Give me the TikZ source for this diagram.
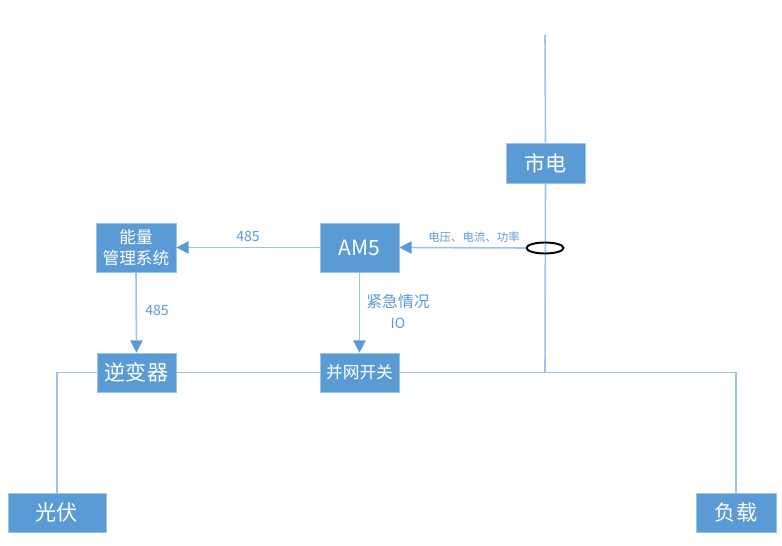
\documentclass[tikz,border=0pt]{standalone}
\usepackage{fontspec}
\setmainfont{Noto Sans CJK SC}
\usetikzlibrary{arrows.meta,shapes.geometric}
\definecolor{boxblue}{HTML}{5B9BD5}
\definecolor{lineblue}{HTML}{9DC3E6}
\tikzset{
  unit/.style={fill=boxblue, draw=lineblue, line width=0.4pt, text=white,
    inner sep=0pt, align=center, font=\fontsize{12}{13}\selectfont},
  wire/.style={draw=lineblue, line width=0.9pt},
  sig/.style={wire, -{Triangle[length=7pt, width=7pt, color=boxblue]}},
  tag/.style={text=boxblue, inner sep=1pt, font=\fontsize{8}{9}\selectfont}
}

\begin{document}
\begin{tikzpicture}[x=0.02cm, y=-0.02cm]
    \useasboundingbox (0,0) rectangle (782,546);

    % Boxes
    \node[unit, minimum width=1.58cm, minimum height=0.8cm] (grid) at (545.5,163) {市电};
    \node[unit, minimum width=1.58cm, minimum height=0.98cm] (am) at (359.5,247.5) {AM5};
    \node[unit, minimum width=1.6cm, minimum height=0.98cm,
          font=\fontsize{9.5}{12}\selectfont] (ems) at (136,247.5) {能量\\管理系统};
    \node[unit, minimum width=1.58cm, minimum height=0.78cm] (inv) at (136.5,372.5) {逆变器};
    \node[unit, minimum width=1.58cm, minimum height=0.78cm,
          font=\fontsize{9.5}{11}\selectfont] (pcc) at (359.5,372.5) {并网开关};
    \node[unit, minimum width=1.96cm, minimum height=0.78cm] (pv) at (57,512.5) {光伏};
    \node[unit, minimum width=1.6cm, minimum height=0.78cm] (load) at (736,512.5) {负载};

    % Bus and feeders
    \coordinate (top) at (545,35);
    \coordinate (tap) at (545,373);
    \draw[wire] (top) -- (grid.north);
    \draw[wire] (grid.south) -- (tap);
    \draw[wire] (pv.north) |- (inv.west);
    \draw[wire] (inv.east) -- (pcc.west);
    \draw[wire] (pcc.east) -| (load.north);

    % Current transformer
    \node[ellipse, draw=black, line width=1.1pt, minimum width=0.74cm,
          minimum height=0.22cm, inner sep=0pt] (ct) at (545,248) {};

    % Signals
    \draw[sig] (ct.west) -- (am.east);
    \draw[sig] (am.west) -- (ems.east);
    \draw[sig] (ems.south) -- (inv.north);
    \draw[sig] (am.south) -- (pcc.north);

    % Labels
    \node[tag, font=\fontsize{6.5}{8}\selectfont] (meas) at (474,237) {电压、电流、功率};
    \node[tag] (bus1) at (248,236.5) {485};
    \node[tag] (bus2) at (157,310) {485};
    \node[tag, font=\fontsize{9}{10}\selectfont] (emg) at (398,301) {紧急情况};
    \node[tag] (io) at (398,323) {IO};
\end{tikzpicture}
\end{document}
